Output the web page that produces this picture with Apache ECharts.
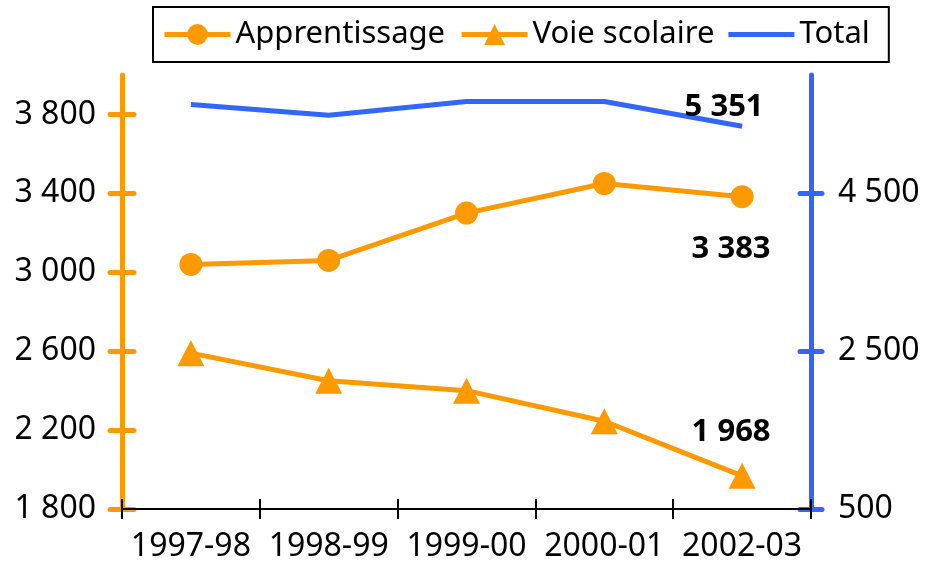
<!DOCTYPE html>
<html>
<head>
<meta charset="utf-8">
<script src="https://cdn.jsdelivr.net/npm/echarts@6/dist/echarts.min.js"></script>
<style>html,body{margin:0;padding:0;background:#fff}#c{width:926px;height:570px}</style>
</head>
<body>
<div id="c"></div>
<script>
const categories = ['1997-98', '1998-99', '1999-00', '2000-01', '2002-03'];
const apprentissage = [3040, 3060, 3300, 3450, 3383];
const voieScolaire = [2590, 2450, 2400, 2245, 1968];
const total = [5625, 5490, 5665, 5665, 5351];
const leftTicks = [1800, 2200, 2600, 3000, 3400, 3800];
const rightTicks = [500, 2500, 4500];

const ORANGE = '#FF9900';
const BLUE = '#3366FF';
const FONT = 'Noto Sans';

function fmt(v) {
  return String(Math.round(v)).replace(/\B(?=(\d{3})+(?!\d))/g, ' ');
}
function lastLabelData(arr, labelOpt) {
  return arr.map((v, i) => i === arr.length - 1 ? { value: v, label: Object.assign({ show: true }, labelOpt) } : v);
}
const lblBase = { fontFamily: FONT, fontSize: 31, fontWeight: 'bold', color: '#000', formatter: p => fmt(p.value) };

const chart = echarts.init(document.getElementById('c'), null, { renderer: 'canvas' });
chart.setOption({
  animation: false,
  backgroundColor: '#fff',
  textStyle: { fontFamily: FONT },
  legend: {
    left: 153, top: 7,
    padding: [12, 19, 12, 9],
    borderColor: '#000', borderWidth: 2,
    itemWidth: 66, itemHeight: 26, itemGap: 14,
    lineStyle: { width: 5 },
    textStyle: { fontFamily: FONT, fontSize: 31, color: '#000' },
    data: [
      'Apprentissage',
      'Voie scolaire',
      { name: 'Total', icon: 'path://M0,0L132,0L132,10L0,10Z', itemStyle: { color: BLUE, borderWidth: 0 } }
    ]
  },
  grid: { left: 122, right: 115, top: 75, bottom: 61, containLabel: false },
  xAxis: [
    {
      type: 'category', data: categories, boundaryGap: true, position: 'bottom',
      axisLine: { lineStyle: { color: '#000', width: 2 } },
      axisTick: { show: true, inside: false, length: 10, lineStyle: { color: '#000', width: 2 } },
      axisLabel: { fontFamily: FONT, fontSize: 32, color: '#000', margin: 22, interval: 0 },
      splitLine: { show: false }, z: 5
    },
    {
      type: 'category', data: categories, boundaryGap: true, position: 'bottom',
      axisLine: { show: false },
      axisTick: { show: true, inside: true, length: 10, lineStyle: { color: '#000', width: 2 } },
      axisLabel: { show: false }, splitLine: { show: false }, z: 5
    }
  ],
  yAxis: [
    {
      type: 'value', position: 'left', min: 1800, max: 4000,
      axisLine: { show: true, lineStyle: { color: ORANGE, width: 5, cap: 'round' } },
      axisTick: { show: true, inside: false, length: 12, customValues: leftTicks, lineStyle: { color: ORANGE, width: 5, cap: 'round' } },
      axisLabel: { fontFamily: FONT, fontSize: 32, color: '#000', margin: 26, customValues: leftTicks, formatter: v => fmt(v) },
      splitLine: { show: false }
    },
    {
      type: 'value', position: 'left', min: 1800, max: 4000,
      axisLine: { show: false },
      axisTick: { show: true, inside: true, length: 12, customValues: leftTicks, lineStyle: { color: ORANGE, width: 5, cap: 'round' } },
      axisLabel: { show: false }, splitLine: { show: false }
    },
    {
      type: 'value', position: 'right', min: 500, max: 6000,
      axisLine: { show: true, lineStyle: { color: BLUE, width: 5, cap: 'round' } },
      axisTick: { show: true, inside: false, length: 11, customValues: rightTicks, lineStyle: { color: BLUE, width: 5, cap: 'round' } },
      axisLabel: { fontFamily: FONT, fontSize: 32, color: '#000', margin: 27, customValues: rightTicks, formatter: v => fmt(v) },
      splitLine: { show: false }
    },
    {
      type: 'value', position: 'right', min: 500, max: 6000,
      axisLine: { show: false },
      axisTick: { show: true, inside: true, length: 11, customValues: rightTicks, lineStyle: { color: BLUE, width: 5, cap: 'round' } },
      axisLabel: { show: false }, splitLine: { show: false }
    }
  ],
  series: [
    {
      name: 'Apprentissage', type: 'line', yAxisIndex: 0,
      data: lastLabelData(apprentissage, Object.assign({ position: 'bottom', distance: 25, offset: [-11, 0] }, lblBase)),
      symbol: 'circle', symbolSize: 23,
      lineStyle: { color: ORANGE, width: 5 }, itemStyle: { color: ORANGE }
    },
    {
      name: 'Voie scolaire', type: 'line', yAxisIndex: 0,
      data: lastLabelData(voieScolaire, Object.assign({ position: 'top', distance: 15, offset: [-11, 0] }, lblBase)),
      symbol: 'triangle', symbolSize: [27, 26],
      lineStyle: { color: ORANGE, width: 5 }, itemStyle: { color: ORANGE }
    },
    {
      name: 'Total', type: 'line', yAxisIndex: 2,
      data: total,
      symbol: 'none', showSymbol: false,
      lineStyle: { color: BLUE, width: 5 }, itemStyle: { color: BLUE },
      endLabel: {
        show: true, fontFamily: FONT, fontSize: 31, fontWeight: 'bold', color: '#000',
        formatter: p => fmt(p.value),
        align: 'center', verticalAlign: 'bottom', distance: 0, offset: [-18, -4]
      }
    }
  ]
});
</script>
</body>
</html>
